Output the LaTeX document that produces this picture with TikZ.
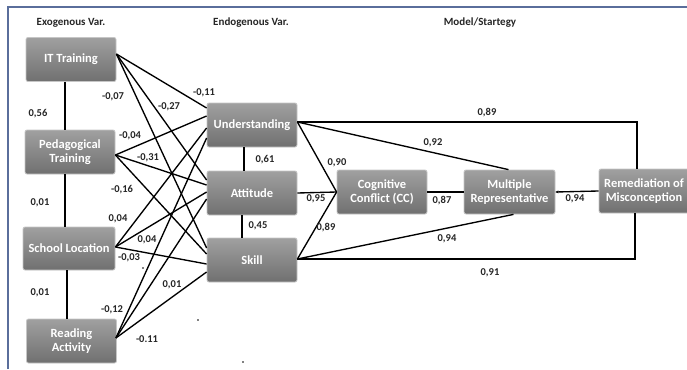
\documentclass[tikz,border=0pt]{standalone}
\usepackage{fontspec}
\setmainfont{Carlito}
\usetikzlibrary{arrows.meta}
\definecolor{framecol}{RGB}{90,110,155}
\definecolor{boxtop}{RGB}{160,160,160}
\definecolor{boxbot}{RGB}{112,112,112}
\tikzset{
  varbox/.style={rectangle, rounded corners=2pt, top color=boxtop, bottom color=boxbot,
    draw=gray!45, line width=0.8pt, minimum width=90pt, minimum height=44pt, inner sep=1pt,
    align=center, text=white, font=\bfseries\fontsize{12.5}{14}\selectfont},
  conn/.style={draw=black, line width=1.35pt},
  lbl/.style={font=\bfseries\fontsize{10.5}{12}\selectfont, inner sep=0pt, text=black!85},
  ttl/.style={font=\bfseries\fontsize{11}{12}\selectfont, inner sep=0pt, text=black!85},
  spot/.style={circle, fill=black, inner sep=0pt, minimum size=1.6pt}
}
\begin{document}
\begin{tikzpicture}[x=1pt,y=-1pt]
\useasboundingbox (0,0) rectangle (687,369);
\fill[white] (0,0) rectangle (687,369);
% frame
\draw[framecol, line width=1.2pt] (8,369) -- (8,7) -- (687,7);
% titles
\node[ttl] (t1) at (71,23) {Exogenous Var.};
\node[ttl] (t2) at (251,23) {Endogenous Var.};
\node[ttl] (t3) at (480,23) {Model/Startegy};
% boxes
\node[varbox] (it)  at (71,59.5) {IT Training};
\node[varbox] (ped) at (70,152) {Pedagogical\\Training};
\node[varbox, minimum width=92pt, minimum height=43pt] (sch) at (69,248.5) {School Location};
\node[varbox] (rea) at (71.5,341) {Reading\\Activity};
\node[varbox] (und) at (252,125) {Understanding};
\node[varbox] (att) at (252,193) {Attitude};
\node[varbox] (ski) at (252,260) {Skill};
\node[varbox] (cc)  at (382,192) {Cognitive\\Conflict (CC)};
\node[varbox, minimum width=91pt] (mr) at (509.5,192) {Multiple\\Representative};
\node[varbox] (rem) at (644,191) {Remediation of\\Misconception};
% anchor points
\coordinate (itS)  at ([yshift=5.5pt]it.east);
\coordinate (pedS) at ([yshift=-3pt]ped.east);
\coordinate (schS) at ([yshift=1.5pt]sch.east);
\coordinate (reaS) at ([xshift=-1pt,yshift=3pt]rea.east);
\coordinate (u1) at ([yshift=17pt]und.west);
\coordinate (u2) at ([yshift=9pt]und.west);
\coordinate (u3) at ([yshift=-3pt]und.west);
\coordinate (u4) at ([yshift=-13pt]und.west);
\coordinate (a1) at ([yshift=13pt]att.west);
\coordinate (a2) at ([yshift=8pt]att.west);
\coordinate (a3) at ([yshift=1pt]att.west);
\coordinate (a4) at ([yshift=-6pt]att.west);
\coordinate (s1) at ([yshift=12pt]ski.west);
\coordinate (s2) at ([yshift=6pt]ski.west);
\coordinate (s3) at ([yshift=-4pt]ski.west);
\coordinate (s4) at ([yshift=-12pt]ski.west);
\coordinate (uE) at ([yshift=3pt]und.east);
\coordinate (sE) at ([yshift=1pt]ski.east);
% exogenous chain
\draw[conn] ([xshift=-6pt]it.south) -- ([xshift=-5pt]ped.north);
\draw[conn] ([xshift=-5pt]ped.south) -- ([xshift=-4pt]sch.north);
\draw[conn] ([xshift=-2pt]sch.south) -- ([xshift=-4.5pt]rea.north);
% exogenous to endogenous
\draw[conn] (itS) -- (u1);
\draw[conn] (itS) -- (a1);
\draw[conn] (itS) -- (s1);
\draw[conn] (pedS) -- (u2);
\draw[conn] (pedS) -- (a2);
\draw[conn] (pedS) -- (s2);
\draw[conn] (schS) -- (u3);
\draw[conn] (schS) -- (a3);
\draw[conn] (schS) -- (s3);
\draw[conn] (reaS) -- (u4);
\draw[conn] (reaS) -- (a4);
\draw[conn] (reaS) -- (s4);
% endogenous chain
\draw[conn] ([xshift=-8pt]und.south) -- ([xshift=-8pt]att.north);
\draw[conn] ([xshift=-10pt]att.south) -- ([xshift=-10pt]ski.north);
% to CC
\draw[conn] (uE) -- (cc.west);
\draw[conn] (att.east) -- (cc.west);
\draw[conn] (sE) -- (cc.west);
% model
\draw[conn] (cc.east) -- (mr.west);
\draw[conn, -{Stealth[length=3pt,width=3pt]}] (rem.west) -- (mr.east);
\draw[conn] (uE) -| ([xshift=-7pt]rem.north);
\draw[conn] (uE) -- ([xshift=-1pt]mr.north);
\draw[conn] (sE) -- ([xshift=4pt]mr.south);
\draw[conn] (sE) -| ([xshift=-9pt]rem.south);
% labels
\node[lbl] (l1) at (38,114) {0,56};
\node[lbl] (l2) at (40,203) {0,01};
\node[lbl] (l3) at (40,293) {0,01};
\node[lbl] (l4) at (113,97) {-0,07};
\node[lbl] (l5) at (169,107) {-0,27};
\node[lbl] (l6) at (204,93) {-0,11};
\node[lbl] (l7) at (130,136) {-0,04};
\node[lbl] (l8) at (148,158) {-0,31};
\node[lbl] (l9) at (122,190) {-0,16};
\node[lbl] (l10) at (118,219) {0,04};
\node[lbl] (l11) at (147,240) {0,04};
\node[lbl] (l12) at (129,258) {-0,03};
\node[lbl] (l13) at (172,285) {0,01};
\node[lbl] (l14) at (112,310) {-0,12};
\node[lbl] (l15) at (147,339) {-0.11};
\node[lbl] (l16) at (265,160) {0,61};
\node[lbl] (l17) at (258,226) {0,45};
\node[lbl] (l18) at (337,163) {0,90};
\node[lbl] (l19) at (316,199) {0,95};
\node[lbl] (l20) at (326,228) {0,89};
\node[lbl] (l21) at (442,201) {0,87};
\node[lbl] (l22) at (575,199) {0,94};
\node[lbl] (l23) at (487,113) {0,89};
\node[lbl] (l24) at (433,143) {0,92};
\node[lbl] (l25) at (447,239) {0,94};
\node[lbl] (l26) at (490,273) {0,91};
% stray dots
\node[spot] (d1) at (143,268) {};
\node[spot] (d2) at (198,320) {};
\node[spot] (d3) at (243,362) {};
\end{tikzpicture}
\end{document}
